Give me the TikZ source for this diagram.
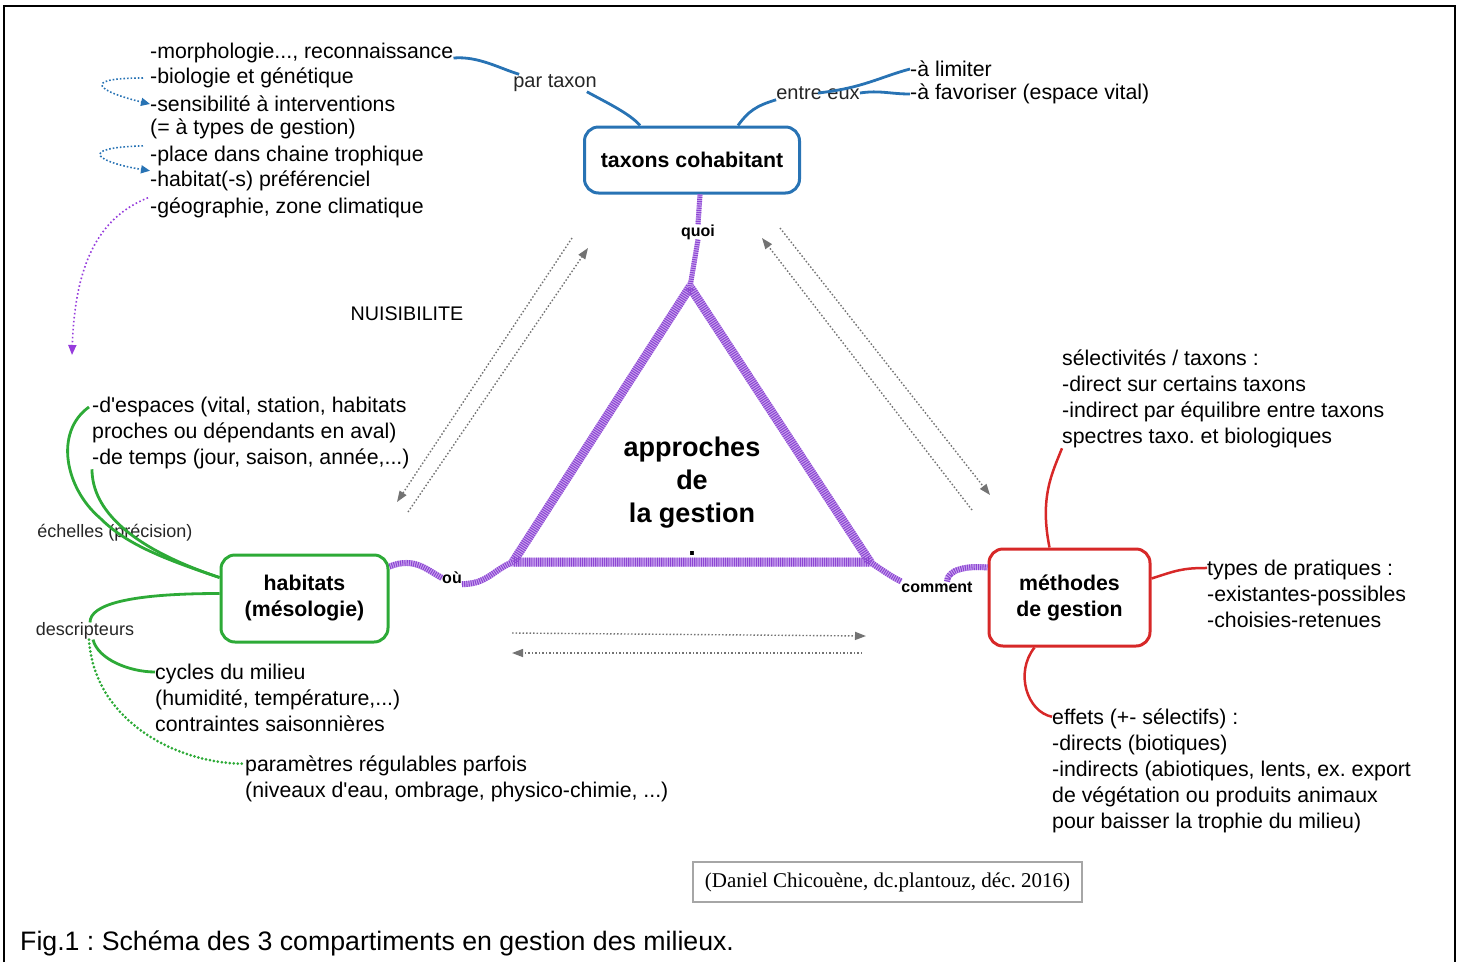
\documentclass[tikz,border=0pt]{standalone}
\usepackage{fontspec}
\setmainfont{Liberation Sans}
\newfontfamily\serifcred{Liberation Serif}
\usetikzlibrary{arrows.meta}
\frenchspacing
\definecolor{mapblue}{RGB}{40,115,180}
\definecolor{mapgreen}{RGB}{45,170,55}
\definecolor{mapred}{RGB}{215,40,40}
\definecolor{purpdark}{RGB}{140,70,210}
\definecolor{purplight}{RGB}{205,170,240}
\definecolor{dotpurple}{RGB}{150,60,220}

\begin{document}
\begin{tikzpicture}[x=1pt,y=-1pt,
  txt/.style={anchor=west,inner sep=0pt,align=left,font=\fontsize{21.3}{26}\selectfont},
  lbl/.style={inner sep=0pt,text=black!85,font=\fontsize{20}{24}\selectfont},
  small/.style={inner sep=0pt,font=\bfseries\fontsize{16}{20}\selectfont},
  box/.style={draw,rounded corners=14pt,line width=3pt,fill=white,align=center,inner sep=0pt,font=\bfseries\fontsize{21.3}{26}\selectfont},
  bl/.style={draw=mapblue,line width=2.8pt},
  gl/.style={draw=mapgreen,line width=2.8pt},
  rl/.style={draw=mapred,line width=2.5pt},
  gdot/.style={draw=mapgreen,line width=3pt,line cap=round,dash pattern=on 0pt off 4pt},
  bdot/.style={draw=mapblue,line width=1.6pt,dash pattern=on 1.6pt off 2pt,-{Triangle[length=9pt,width=8pt]}},
  pdot/.style={draw=dotpurple,line width=1.6pt,dash pattern=on 1.6pt off 2.4pt,-{Triangle[length=10pt,width=8pt]}},
  hatch/.style={draw=purpdark,line width=#1,dash pattern=on 1.1pt off 1.1pt,preaction={draw=purplight,solid,line width=#1}},
  hatch/.default=9pt,
  garrow/.style={draw=black!55,line width=1.4pt,dash pattern=on 1.5pt off 2pt,-{Triangle[length=11pt,width=8pt]}}
]
\useasboundingbox (0,0) rectangle (1460,962);
\draw[line width=1.5pt] (4,962) -- (4,6) -- (1455,6) -- (1455,962);

\node[box,draw=mapblue,minimum width=215pt,minimum height=66pt] (tax) at (692,160) {taxons cohabitant};
\node[box,draw=mapgreen,minimum width=167pt,minimum height=87pt] (habi) at (304.5,598.5) {habitats\\(mésologie)};
\node[box,draw=mapred,minimum width=161pt,minimum height=97pt] (meth) at (1069.5,597.5) {méthodes\\de gestion};

\coordinate (tt) at (690,287);
\coordinate (tl) at (513,562);
\coordinate (tr) at (870,562);
\draw[hatch] (tt) -- (tl) -- (tr) -- cycle;
\node[anchor=north,inner sep=0pt,align=center,font=\bfseries\fontsize{27}{33}\selectfont] (appr) at (692,437) {approches\\de\\la gestion\\.};

\node[small] (quoi) at (698,232) {quoi};
\node[small] (ou) at (452,578) {où};
\node[small] (com) at (937,587) {comment};
\node[lbl] (ptx) at (555,83) {par taxon};
\node[lbl] (ent) at (818,93) {entre eux};
\node[lbl,text=black,font=\fontsize{19.7}{24}\selectfont] (nuis) at (407,314) {NUISIBILITE};
\node[lbl,font=\fontsize{18}{22}\selectfont] (ech) at (115,533) {échelles (précision)};
\node[lbl,font=\fontsize{18}{22}\selectfont] (des) at (85,631) {descripteurs};

\node[txt] (mor) at (150,53) {-morphologie..., reconnaissance};
\node[txt] (bio) at (150,78) {-biologie et génétique};
\node[txt] (sen) at (150,104) {-sensibilité à interventions};
\node[txt] (typ) at (150,129) {(= à types de gestion)};
\node[txt] (pla) at (150,156) {-place dans chaine trophique};
\node[txt] (hab) at (150,181) {-habitat(-s) préférenciel};
\node[txt] (geo) at (150,208) {-géographie, zone climatique};

\node[txt] (lim) at (910,69) {-à limiter};
\node[txt] (fav) at (910,94) {-à favoriser (espace vital)};

\node[txt] (esp) at (92,407) {-d\textquotesingle espaces (vital, station, habitats};
\node[txt] (pro) at (92,433) {proches ou dépendants en aval)};
\node[txt] (tem) at (92,459) {-de temps (jour, saison, année,...)};
\node[txt] (cyc) at (155,698) {cycles du milieu\\(humidité, température,...)\\contraintes saisonnières};
\node[txt] (parm) at (245,779) {paramètres régulables parfois\\(niveaux d\textquotesingle eau, ombrage, physico-chimie, ...)};

\node[txt] (sel) at (1062,399) {sélectivités / taxons :\\-direct sur certains taxons\\-indirect par équilibre entre taxons\\spectres taxo. et biologiques};
\node[txt] (typp) at (1207,594) {types de pratiques :\\-existantes-possibles\\-choisies-retenues};
\node[txt] (eff) at (1052,771) {effets (+- sélectifs) :\\-directs (biotiques)\\-indirects (abiotiques, lents, ex. export\\de végétation ou produits animaux\\pour baisser la trophie du milieu)};

\node[draw=black!35,line width=1.2pt,minimum width=389pt,minimum height=40pt,inner sep=0pt,font=\serifcred\fontsize{21}{24}\selectfont] (cred) at (887.5,882) {(Daniel Chicouène, dc.plantouz, déc. 2016)};
\node[anchor=west,inner sep=0pt,font=\fontsize{26.7}{30}\selectfont] (fig) at (20,943) {Fig.1 : Schéma des 3 compartiments en gestion des milieux.};

\draw[bl] ([yshift=-5pt]mor.east) .. controls +(25,-2) and +(-20,-6) .. ([xshift=6pt]ptx.north west);
\draw[bl] ([xshift=-10pt]ptx.south east) .. controls +(18,10) and +(-10,-12) .. ([xshift=-52pt]tax.north);
\draw[bl] ([xshift=46pt]tax.north) .. controls +(10,-14) and +(-20,6) .. (ent.south west);
\draw[bl] (ent.center) .. controls +(45,-5) and +(-30,8) .. (lim.west);
\draw[bl] (ent.east) .. controls +(20,-3) and +(-20,0) .. (fav.west);
\draw[bdot] ([xshift=-7pt]bio.west) .. controls +(-65,0) and +(-50,-12) .. (sen.west);
\draw[bdot] ([xshift=-7pt]pla.north west) .. controls +(-70,2) and +(-50,-8) .. (hab.north west);
\coordinate (nuisend) at (72,355);
\draw[pdot] ([xshift=-2pt]geo.north west) .. controls +(-50,20) and +(3,-90) .. (nuisend);

\draw[hatch=5pt] ([xshift=8pt]tax.south) -- (quoi.north);
\draw[hatch=5pt] (quoi.south) -- (tt);
\draw[hatch=6pt] ([yshift=-13pt]habi.north east) .. controls +(25,-10) and +(-15,-8) .. (ou.west);
\draw[hatch=6pt] (ou.south east) .. controls +(25,0) and +(-20,8) .. (tl);
\draw[hatch=6pt] (tr) .. controls +(15,10) and +(-10,-5) .. (com.north west);
\draw[hatch=6pt] ([xshift=10pt]com.north) .. controls +(0,-12) and +(-20,-2) .. ([yshift=-20pt]meth.north west);

\draw[gl] ([yshift=21pt]habi.west) .. controls +(-60,-20) and +(25,25) .. (100,518)
  .. controls +(-35,-30) and +(-35,25) .. ([xshift=-3pt]esp.west);
\draw[gl] ([yshift=21pt]habi.west) .. controls +(-90,-30) and +(0,40) .. (tem.south west);
\draw[gl] ([yshift=5pt]habi.west) .. controls +(-90,0) and +(0,-18) .. ([xshift=5pt]des.north);
\draw[gl] ([xshift=8pt]des.south) .. controls +(5,20) and +(-25,0) .. ([yshift=-8pt]cyc.north west);
\draw[gdot] ([xshift=4pt]des.south) .. controls +(5,80) and +(-70,0) .. ([yshift=-8pt]parm.north west);

\draw[rl] ([xshift=-20pt]meth.north) .. controls +(-10,-50) and +(-10,25) .. (sel.south west);
\draw[rl] ([yshift=19pt]meth.east) .. controls +(25,-8) and +(-25,0) .. ([yshift=-8pt]typp.north west);
\draw[rl] ([xshift=-35pt]meth.south) .. controls +(-20,25) and +(-25,-5) .. ([yshift=-8pt]eff.north west);

\draw[garrow] (572,238) -- (397,502);
\draw[garrow] (408,512) -- (588,248);
\draw[garrow] (780,228) -- (990,495);
\draw[garrow] (972,510) -- (762,238);
\draw[garrow] (512,633) -- (866,636);
\draw[garrow] (862,653) -- (512,653);
\end{tikzpicture}
\end{document}
